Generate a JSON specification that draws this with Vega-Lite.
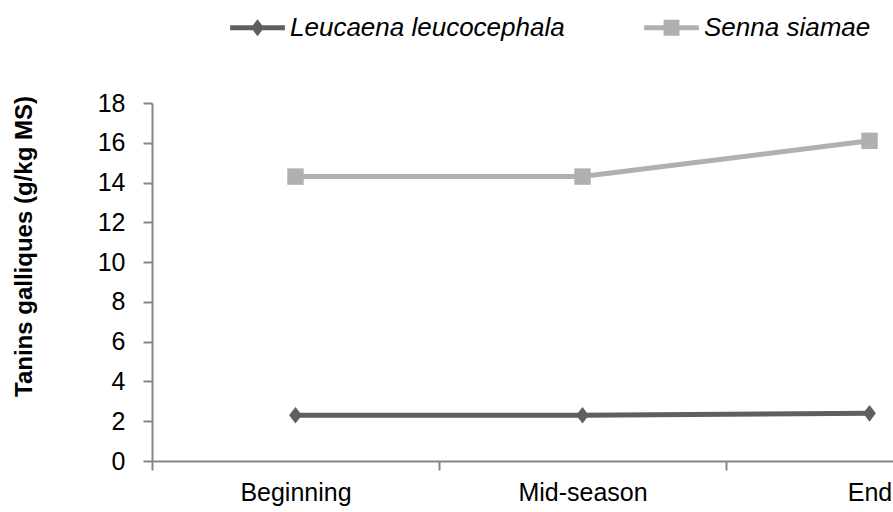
{
  "$schema": "https://vega.github.io/schema/vega-lite/v6.json",
  "autosize": "none",
  "padding": {"left": 152, "top": 103, "right": 0, "bottom": 51},
  "width": 741,
  "height": 358,
  "background": "white",
  "data": {
    "values": [
      {"stage": "Beginning", "species": "Leucaena leucocephala", "tannins": 2.3},
      {"stage": "Mid-season", "species": "Leucaena leucocephala", "tannins": 2.3},
      {"stage": "End", "species": "Leucaena leucocephala", "tannins": 2.4},
      {"stage": "Beginning", "species": "Senna siamae", "tannins": 14.3},
      {"stage": "Mid-season", "species": "Senna siamae", "tannins": 14.3},
      {"stage": "End", "species": "Senna siamae", "tannins": 16.1}
    ]
  },
  "config": {
    "view": {"stroke": null},
    "font": "Liberation Sans",
    "axis": {
      "domainColor": "#868686",
      "domainWidth": 2,
      "tickColor": "#868686",
      "tickWidth": 2,
      "tickSize": 9,
      "labelFont": "Liberation Sans",
      "labelFontSize": 25,
      "labelColor": "#000000",
      "grid": false
    }
  },
  "encoding": {
    "x": {
      "field": "stage",
      "type": "nominal",
      "sort": ["Beginning", "Mid-season", "End"],
      "scale": {"type": "band", "paddingInner": 0, "paddingOuter": 0, "range": [0, 861]},
      "axis": {"title": null, "labelAngle": 0, "tickBand": "extent", "labelPadding": 10, "labelBaseline": "top"}
    },
    "y": {
      "field": "tannins",
      "type": "quantitative",
      "scale": {"domain": [0, 18], "nice": false},
      "axis": {
        "values": [0, 2, 4, 6, 8, 10, 12, 14, 16, 18],
        "title": "Tanins galliques (g/kg MS)",
        "titleFont": "Liberation Sans",
        "titleFontSize": 24,
        "titleFontWeight": "bold",
        "titleColor": "#000000",
        "titleAngle": -90,
        "titleBaseline": "middle",
        "titleAlign": "center",
        "titleX": -128,
        "titleY": 143,
        "labelPadding": 18
      }
    },
    "color": {
      "field": "species",
      "type": "nominal",
      "scale": {"domain": ["Leucaena leucocephala", "Senna siamae"], "range": ["#5f5f5f", "#b0b0b0"]},
      "legend": {
        "orient": "none",
        "legendX": 78,
        "legendY": -103,
        "direction": "horizontal",
        "title": null,
        "padding": 0,
        "symbolSize": 3000,
        "symbolStrokeWidth": 0,
        "labelOffset": 5,
        "labelLimit": 0,
        "columnPadding": 79,
        "labelFont": "Liberation Sans",
        "labelFontSize": 26,
        "labelFontStyle": "italic",
        "labelColor": "#000000",
        "encode": {
          "symbols": {
            "update": {
              "shape": {"signal": "datum.value === 'Senna siamae' ? 'M-1,-0.09H1V0.09H-1Z M-0.29,-0.29H0.29V0.29H-0.29Z' : 'M-1,-0.09H1V0.09H-1Z M0,-0.31L0.24,0L0,0.31L-0.24,0Z'"},
              "fill": {"scale": "color", "field": "value"},
              "opacity": {"value": 1},
              "strokeWidth": {"value": 0}
            }
          }
        }
      }
    }
  },
  "layer": [
    {
      "mark": {"type": "line", "strokeWidth": 5}
    },
    {
      "transform": [{"filter": "datum.species === 'Leucaena leucocephala'"}],
      "mark": {"type": "point", "filled": true, "opacity": 1, "shape": "M0,-1L0.76,0L0,1L-0.76,0Z", "size": 280}
    },
    {
      "transform": [{"filter": "datum.species === 'Senna siamae'"}],
      "mark": {"type": "point", "filled": true, "opacity": 1, "shape": "square", "size": 270}
    }
  ]
}
